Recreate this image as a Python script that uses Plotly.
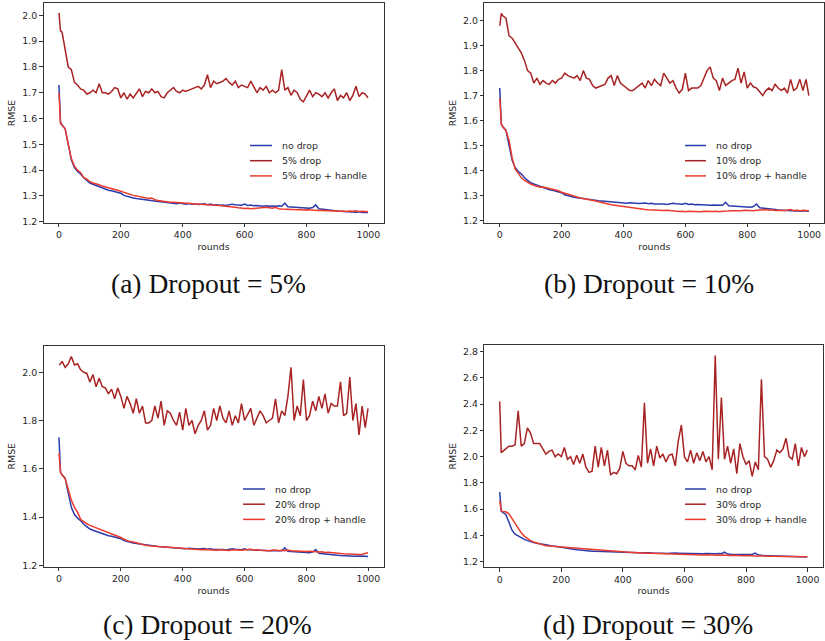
import plotly.graph_objects as go

W, H = 825, 641

ROUNDS = [0, 5, *range(10, 1000, 10), 999]

NO_DROP = [
    1.73, 1.585, 1.575, 1.56, 1.50, 1.44, 1.41, 1.395, 1.385, 1.37,
    1.36, 1.35, 1.345, 1.34, 1.338, 1.332, 1.328, 1.322, 1.32, 1.317,
    1.313, 1.31, 1.302, 1.298, 1.296, 1.292, 1.29, 1.288, 1.285, 1.284,
    1.282, 1.28, 1.279, 1.278, 1.277, 1.276, 1.274, 1.273, 1.272, 1.27,
    1.272, 1.27, 1.268, 1.27, 1.268, 1.269, 1.267, 1.268, 1.269, 1.266,
    1.268, 1.265, 1.266, 1.264, 1.265, 1.263, 1.265, 1.268, 1.266, 1.265,
    1.264, 1.268, 1.263, 1.265, 1.262, 1.263, 1.262, 1.26, 1.262, 1.26,
    1.261, 1.26, 1.262, 1.26, 1.272, 1.258, 1.257, 1.256, 1.255, 1.256,
    1.253, 1.254, 1.252, 1.255, 1.265, 1.25, 1.248, 1.247, 1.246, 1.244,
    1.243, 1.241, 1.24, 1.239, 1.24, 1.238, 1.239, 1.237, 1.238, 1.236,
    1.237, 1.236,
]

DROP_5 = [
    2.01, 1.94, 1.935, 1.87, 1.80, 1.79, 1.74, 1.73, 1.715, 1.71,
    1.695, 1.70, 1.71, 1.70, 1.735, 1.70, 1.70, 1.695, 1.705, 1.72,
    1.715, 1.68, 1.70, 1.675, 1.695, 1.68, 1.70, 1.715, 1.685, 1.705,
    1.70, 1.715, 1.70, 1.705, 1.685, 1.68, 1.70, 1.71, 1.72, 1.705,
    1.70, 1.71, 1.705, 1.71, 1.715, 1.72, 1.725, 1.715, 1.73, 1.77,
    1.72, 1.745, 1.735, 1.74, 1.745, 1.755, 1.74, 1.73, 1.745, 1.72,
    1.73, 1.725, 1.72, 1.745, 1.72, 1.70, 1.72, 1.71, 1.725, 1.70,
    1.71, 1.70, 1.71, 1.79, 1.71, 1.72, 1.69, 1.71, 1.70, 1.675,
    1.665, 1.69, 1.71, 1.685, 1.70, 1.695, 1.685, 1.70, 1.68, 1.70,
    1.715, 1.67, 1.69, 1.68, 1.70, 1.67, 1.69, 1.725, 1.685, 1.70,
    1.695, 1.68,
]
HANDLE_5 = [
    1.70, 1.58, 1.575, 1.56, 1.50, 1.445, 1.415, 1.40, 1.39, 1.372,
    1.365, 1.355, 1.35, 1.347, 1.343, 1.338, 1.334, 1.33, 1.328, 1.325,
    1.322, 1.318, 1.312, 1.308, 1.305, 1.302, 1.30, 1.297, 1.295, 1.293,
    1.29, 1.292, 1.285, 1.282, 1.28, 1.278, 1.276, 1.275, 1.275, 1.274,
    1.273, 1.272, 1.272, 1.271, 1.27, 1.27, 1.269, 1.268, 1.267, 1.266,
    1.265, 1.265, 1.264, 1.263, 1.262, 1.26, 1.259, 1.258, 1.256, 1.254,
    1.252, 1.251, 1.252, 1.25, 1.251, 1.252, 1.253, 1.255, 1.256, 1.254,
    1.252, 1.256, 1.25, 1.249, 1.248, 1.249, 1.247, 1.248, 1.246, 1.247,
    1.245, 1.246, 1.245, 1.244, 1.245, 1.243, 1.244, 1.242, 1.243, 1.241,
    1.242, 1.24, 1.241, 1.24, 1.239, 1.241, 1.24, 1.242, 1.239, 1.24,
    1.24, 1.238,
]

DROP_10 = [
    1.98, 2.03, 2.02, 2.01, 1.94, 1.93, 1.91, 1.89, 1.87, 1.84,
    1.80, 1.79, 1.75, 1.77, 1.745, 1.76, 1.75, 1.745, 1.76, 1.75,
    1.765, 1.77, 1.79, 1.78, 1.775, 1.77, 1.78, 1.76, 1.80, 1.77,
    1.765, 1.74, 1.73, 1.735, 1.74, 1.745, 1.77, 1.78, 1.74, 1.78,
    1.75, 1.74, 1.73, 1.72, 1.72, 1.73, 1.74, 1.75, 1.73, 1.76,
    1.74, 1.765, 1.75, 1.74, 1.79, 1.77, 1.75, 1.76, 1.73, 1.71,
    1.725, 1.79, 1.72, 1.73, 1.73, 1.73, 1.74, 1.77, 1.80, 1.815,
    1.77, 1.76, 1.72, 1.77, 1.74, 1.75, 1.76, 1.765, 1.81, 1.75,
    1.795, 1.73, 1.75, 1.735, 1.73, 1.715, 1.70, 1.72, 1.73, 1.72,
    1.745, 1.73, 1.72, 1.73, 1.71, 1.765, 1.72, 1.73, 1.765, 1.72,
    1.765, 1.70,
]
HANDLE_10 = [
    1.69, 1.585, 1.575, 1.56, 1.52, 1.45, 1.405, 1.385, 1.37, 1.36,
    1.352, 1.345, 1.34, 1.335, 1.332, 1.333, 1.33, 1.328, 1.325, 1.322,
    1.318, 1.312, 1.308, 1.305, 1.30, 1.295, 1.29, 1.289, 1.287, 1.285,
    1.283, 1.28, 1.277, 1.274, 1.27, 1.268, 1.265, 1.262, 1.26, 1.258,
    1.257, 1.256, 1.255, 1.252, 1.25, 1.248, 1.246, 1.245, 1.243, 1.242,
    1.241, 1.24, 1.241, 1.24, 1.239, 1.24, 1.238, 1.237, 1.236, 1.235,
    1.236, 1.234, 1.236, 1.235, 1.233, 1.235, 1.234, 1.236, 1.235, 1.237,
    1.235, 1.236, 1.234, 1.236, 1.235, 1.237, 1.238, 1.237, 1.239, 1.238,
    1.24, 1.239, 1.24, 1.238, 1.24, 1.242, 1.241, 1.243, 1.24, 1.242,
    1.239, 1.241, 1.24, 1.238, 1.24, 1.243, 1.238, 1.241, 1.237, 1.24,
    1.239, 1.238,
]

DROP_20 = [
    2.03, 2.035, 2.045, 2.02, 2.035, 2.065, 2.03, 2.035, 2.01, 2.0,
    1.995, 1.96, 1.99, 1.94, 1.975, 1.94, 1.935, 1.91, 1.93, 1.89,
    1.935, 1.90, 1.85, 1.90, 1.87, 1.83, 1.89, 1.83, 1.86, 1.79,
    1.79, 1.80, 1.86, 1.81, 1.88, 1.78, 1.84, 1.83, 1.80, 1.78,
    1.835, 1.76, 1.85, 1.78, 1.80, 1.745, 1.78, 1.80, 1.84, 1.76,
    1.78, 1.85, 1.80, 1.86, 1.81, 1.79, 1.84, 1.78, 1.82, 1.79,
    1.87, 1.80, 1.825, 1.85, 1.78, 1.81, 1.84, 1.82, 1.79, 1.80,
    1.81, 1.89, 1.79, 1.84, 1.82, 1.90, 2.02, 1.80, 1.86, 1.82,
    1.97, 1.80, 1.82, 1.88, 1.84, 1.90, 1.85, 1.91, 1.83, 1.87,
    1.86, 1.86, 1.96, 1.82, 1.83, 1.98, 1.80, 1.87, 1.74, 1.86,
    1.77, 1.85,
]
HANDLE_20 = [
    1.665, 1.585, 1.575, 1.56, 1.515, 1.47, 1.44, 1.42, 1.39, 1.38,
    1.372, 1.365, 1.36, 1.358, 1.35, 1.345, 1.342, 1.335, 1.33, 1.325,
    1.32, 1.315, 1.308, 1.302, 1.298, 1.296, 1.292, 1.288, 1.285, 1.283,
    1.281, 1.28, 1.279, 1.277, 1.276, 1.275, 1.273, 1.272, 1.272, 1.27,
    1.272, 1.27, 1.268, 1.267, 1.266, 1.265, 1.266, 1.264, 1.265, 1.264,
    1.263, 1.265, 1.262, 1.264, 1.262, 1.263, 1.261, 1.264, 1.262, 1.263,
    1.262, 1.263, 1.265, 1.266, 1.262, 1.264, 1.262, 1.261, 1.263, 1.26,
    1.262, 1.263, 1.26, 1.262, 1.26, 1.263, 1.26, 1.259, 1.26, 1.258,
    1.259, 1.257, 1.258, 1.256, 1.257, 1.255, 1.256, 1.253, 1.254, 1.252,
    1.25, 1.251, 1.249, 1.248, 1.247, 1.248, 1.246, 1.247, 1.245, 1.246,
    1.248, 1.252,
]

DROP_30 = [
    2.42, 2.03, 2.04, 2.06, 2.08, 2.08, 2.09, 2.35, 2.08, 2.10,
    2.22, 2.18, 2.10, 2.10, 2.10, 2.06, 2.02, 2.04, 2.05, 2.00,
    2.02, 2.00, 2.07, 1.98, 2.00, 1.94, 2.01, 1.95, 2.02, 1.92,
    1.88, 1.89, 2.08, 1.92, 2.07, 1.93, 2.05, 1.86, 1.88, 1.87,
    1.91, 2.04, 1.95, 1.93, 1.93, 1.90, 2.01, 1.92, 2.41, 1.95,
    2.06, 1.93, 2.08, 1.99, 2.02, 1.96, 2.01, 2.02, 1.93, 2.12,
    2.24, 2.00, 1.96, 2.05, 1.95, 2.03, 1.97, 2.04, 1.96, 2.00,
    1.90, 2.77, 1.98, 2.45, 1.98, 2.08, 1.95, 2.06, 1.87, 2.10,
    2.00, 1.94, 1.97, 1.85, 1.96, 1.90, 2.59, 2.00, 1.98, 1.92,
    1.97, 2.05, 2.03, 2.06, 2.14, 2.00, 1.98, 2.10, 1.93, 2.07,
    2.00, 2.05,
]
HANDLE_30 = [
    1.665, 1.59, 1.58, 1.58, 1.565, 1.53, 1.49, 1.45, 1.42, 1.395,
    1.375, 1.36, 1.35, 1.342, 1.335, 1.328, 1.322, 1.32, 1.318, 1.316,
    1.314, 1.312, 1.308, 1.305, 1.303, 1.301, 1.30, 1.298, 1.296, 1.295,
    1.293, 1.292, 1.29, 1.288, 1.287, 1.285, 1.283, 1.28, 1.279, 1.277,
    1.276, 1.274, 1.273, 1.272, 1.27, 1.27, 1.268, 1.267, 1.265, 1.265,
    1.264, 1.263, 1.262, 1.262, 1.261, 1.26, 1.26, 1.258, 1.257, 1.256,
    1.255, 1.254, 1.255, 1.253, 1.254, 1.252, 1.253, 1.251, 1.252, 1.25,
    1.251, 1.25, 1.249, 1.25, 1.248, 1.249, 1.247, 1.248, 1.246, 1.247,
    1.245, 1.246, 1.244, 1.245, 1.243, 1.244, 1.242, 1.243, 1.242, 1.241,
    1.242, 1.24, 1.241, 1.24, 1.239, 1.24, 1.239, 1.24, 1.238, 1.239,
    1.238, 1.237,
]

DROP_PCTS = ["5%", "10%", "20%", "30%"]
PANEL_LETTERS = ["a", "b", "c", "d"]
DROP_SERIES = [DROP_5, DROP_10, DROP_20, DROP_30]
HANDLE_SERIES = [HANDLE_5, HANDLE_10, HANDLE_20, HANDLE_30]
X_TICKS = [0, 200, 400, 600, 800, 1000]
Y_TICKS = [
    [1.2, 1.3, 1.4, 1.5, 1.6, 1.7, 1.8, 1.9, 2.0],
    [1.2, 1.3, 1.4, 1.5, 1.6, 1.7, 1.8, 1.9, 2.0],
    [1.2, 1.4, 1.6, 1.8, 2.0],
    [1.2, 1.4, 1.6, 1.8, 2.0, 2.2, 2.4, 2.6, 2.8],
]

C_NODROP = "#2a3cae"
C_DROP = "#a82323"
C_HANDLE = "#ec3a2c"
AX_COLOR = "#333333"
TXT = "#262626"
FONT = "DejaVu Sans"
FS = 9.4

# layout geometry (pixels)
BOXES = [  # left, right, top, bottom
    (43.5, 383.5, 3.3, 222.7),
    (484.3, 824.3, 3.3, 222.7),
    (43.5, 383.5, 345.7, 566.7),
    (484.3, 822.7, 345.0, 567.3),
]
Y_RANGES = [(1.196, 2.047), (1.19, 2.07), (1.194, 2.11), (1.157, 2.851)]
# legend: line start x, line end x, text x, first row y, row step
LEGEND_GEO = [
    (250, 272, 280, 145.5, 15.2),
    (685, 706, 714, 145.5, 15.2),
    (243, 265, 273, 489.0, 15.2),
    (685, 706, 714, 489.0, 15.2),
]
CAPTION_POS = [(208.5, 283.5), (648.5, 283.5), (207.5, 624.5), (648, 624.5)]


def px(x):
    return x / W


def py(y):
    return 1 - y / H


fig = go.Figure()
layout = dict(
    width=W, height=H,
    margin=dict(l=0, r=0, t=0, b=0, pad=0),
    paper_bgcolor="white", plot_bgcolor="white",
    font=dict(family=FONT, size=FS, color=TXT),
    showlegend=False,
    annotations=[], shapes=[],
)

for i in range(4):
    sfx = "" if i == 0 else str(i + 1)
    xa, ya = "x" + sfx, "y" + sfx
    pct = DROP_PCTS[i]
    entries = [
        ("no drop", NO_DROP, C_NODROP),
        (pct + " drop", DROP_SERIES[i], C_DROP),
        (pct + " drop + handle", HANDLE_SERIES[i], C_HANDLE),
    ]
    for name, ys, col in entries:
        fig.add_trace(go.Scatter(
            x=ROUNDS, y=ys, mode="lines", name=name,
            line=dict(color=col, width=1.5),
            xaxis=xa, yaxis=ya, hoverinfo="skip",
        ))
    l, r, t, b = BOXES[i]
    common = dict(
        showline=True, linecolor=AX_COLOR, linewidth=1, mirror=True,
        ticks="outside", ticklen=3.5, tickwidth=1, tickcolor=AX_COLOR,
        showgrid=False, zeroline=False, automargin=False,
        tickfont=dict(family=FONT, size=FS, color=TXT),
    )
    layout["xaxis" + sfx] = dict(
        common, domain=[px(l), px(r)], range=[-50, 1049],
        tickvals=X_TICKS, anchor=ya,
        title=dict(text="rounds", standoff=3,
                   font=dict(family=FONT, size=FS, color=TXT)),
    )
    layout["yaxis" + sfx] = dict(
        common, domain=[py(b), py(t)], range=list(Y_RANGES[i]),
        tickvals=Y_TICKS[i], tickformat=".1f", anchor=xa,
        title=dict(text="RMSE", standoff=4,
                   font=dict(family=FONT, size=FS, color=TXT)),
    )
    # legend drawn as line samples + text labels
    x0, x1, tx, ry, step = LEGEND_GEO[i]
    for k, (name, _, col) in enumerate(entries):
        yy = ry + k * step
        layout["shapes"].append(dict(
            type="line", xref="paper", yref="paper",
            x0=px(x0), x1=px(x1), y0=py(yy), y1=py(yy),
            line=dict(color=col, width=1.5),
        ))
        layout["annotations"].append(dict(
            text=name, x=px(tx), y=py(yy), xref="paper", yref="paper",
            xanchor="left", yanchor="middle", showarrow=False,
            font=dict(family=FONT, size=FS, color=TXT),
        ))
    cx, cy = CAPTION_POS[i]
    layout["annotations"].append(dict(
        text="(" + PANEL_LETTERS[i] + ") Dropout = " + pct,
        x=px(cx), y=py(cy), xref="paper", yref="paper",
        xanchor="center", yanchor="middle", showarrow=False,
        font=dict(family="Liberation Serif", size=27.5, color="#111111"),
    ))

fig.update_layout(**layout)
fig.write_html(
    "out.html",
    config=dict(displayModeBar=False),
    post_script="document.body.style.margin='0';document.body.style.overflow='hidden';",
)
